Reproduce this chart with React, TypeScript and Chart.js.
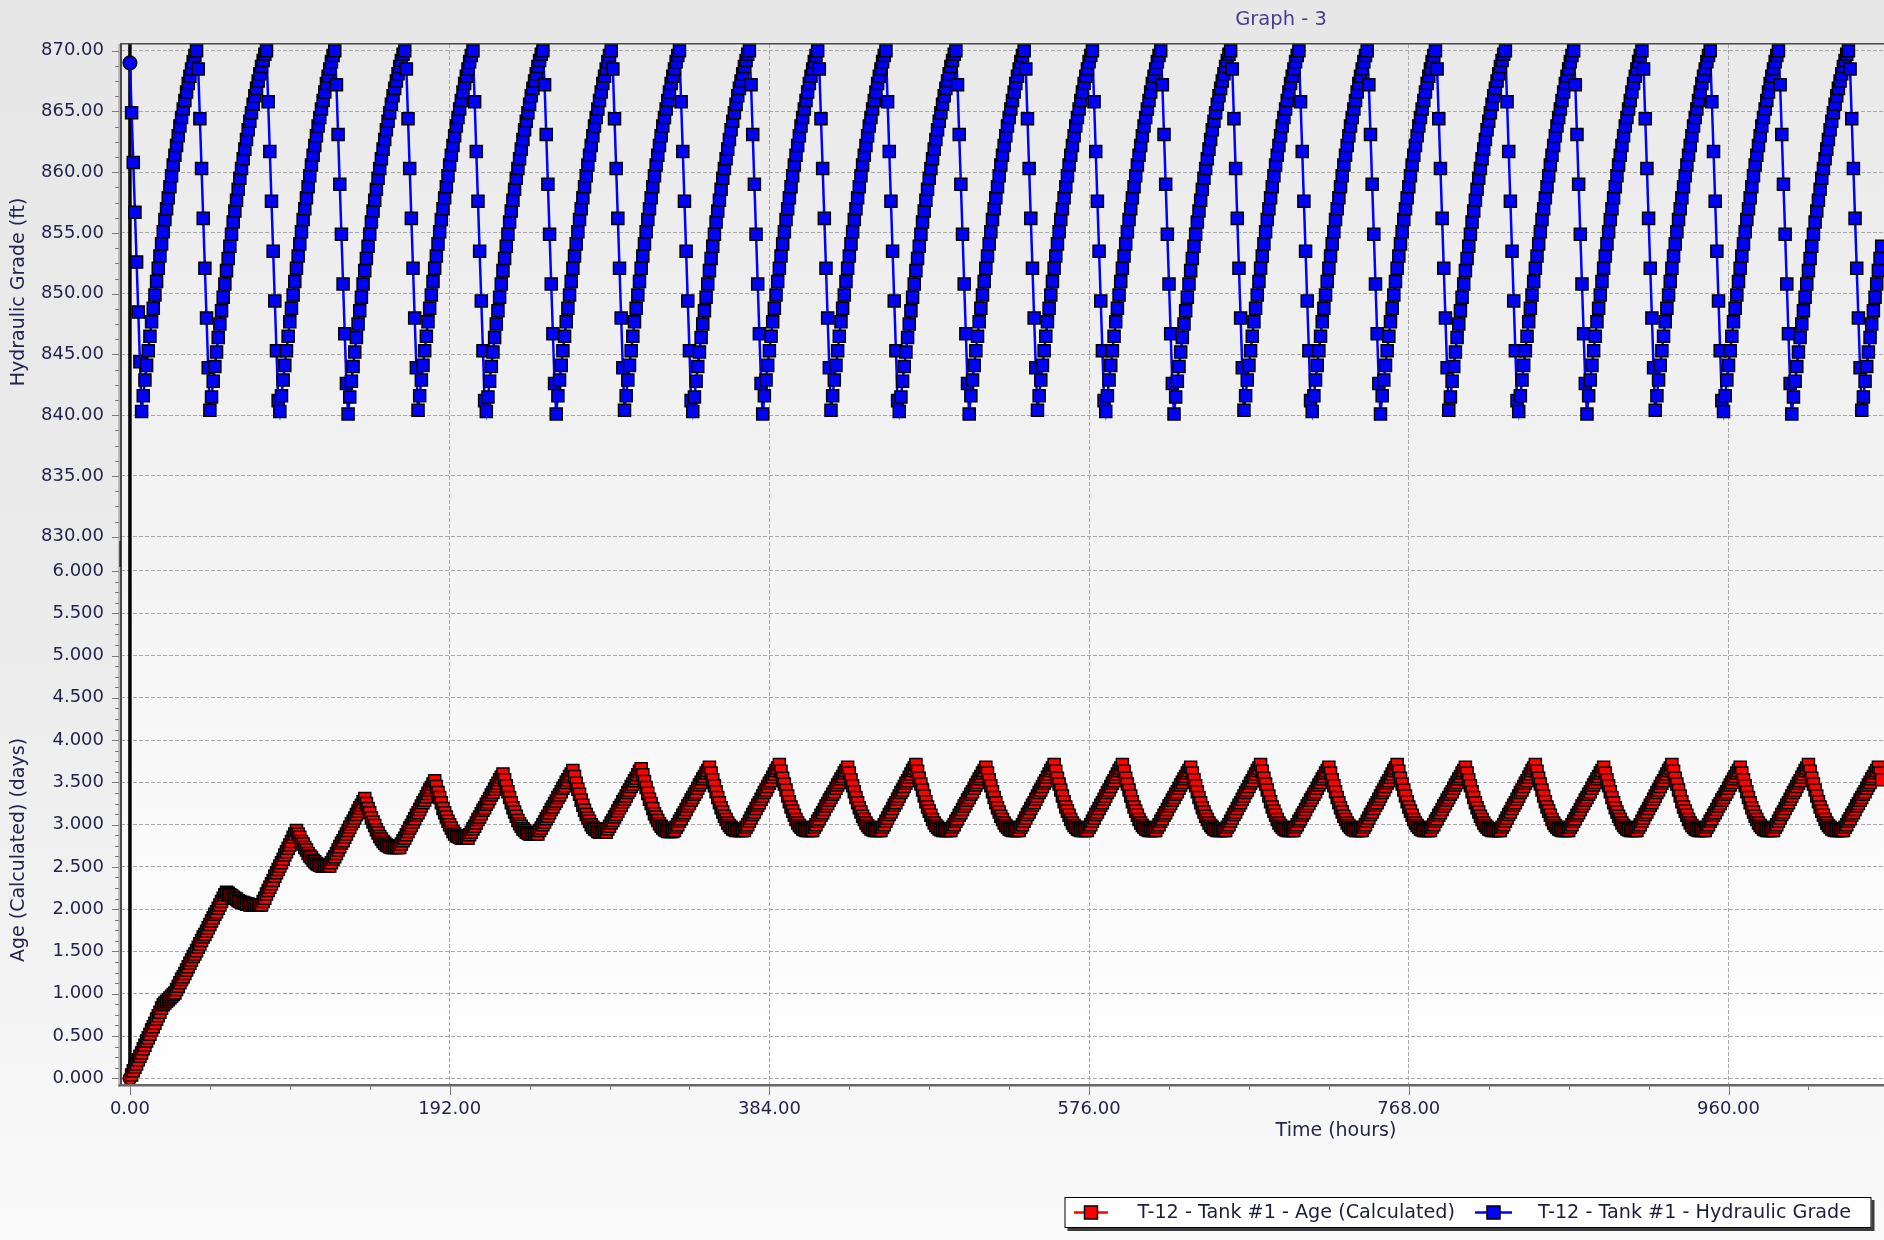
import React, { useEffect, useRef } from "react";
import { Chart, registerables } from "chart.js";

Chart.register(...registerables);

// ---------------- data (hourly simulation results) ----------------
const startHour = 0;
const stepHours = 1;

// T-12 - Tank #1 - Hydraulic Grade (ft), one value per hour from t = 0
const hydraulicGrade = [
  // t 0-40
  869.0, 864.9, 860.8, 856.7, 852.6, 848.5, 844.4, 840.3, 841.6, 842.9, 844.1, 845.3, 846.5, 847.7, 848.8, 849.9, 851.0, 852.1, 853.1, 854.1, 855.1, 856.1, 857.0, 857.9, 858.8, 859.7, 860.6, 861.4, 862.2, 863.0, 863.8, 864.5, 865.2, 865.9, 866.6, 867.3, 867.9, 868.5, 869.1, 869.6, 870.0,
  // t 41-82
  868.5, 864.4, 860.3, 856.2, 852.1, 848.0, 843.9, 840.4, 841.5, 842.8, 844.0, 845.2, 846.4, 847.5, 848.6, 849.7, 850.8, 851.9, 852.9, 853.9, 854.9, 855.9, 856.8, 857.7, 858.6, 859.5, 860.3, 861.1, 861.9, 862.7, 863.5, 864.2, 864.9, 865.6, 866.3, 866.9, 867.5, 868.1, 868.7, 869.2, 869.7, 870.0,
  // t 83-123
  865.8, 861.7, 857.6, 853.5, 849.4, 845.3, 841.2, 840.3, 841.6, 842.9, 844.1, 845.3, 846.5, 847.7, 848.8, 849.9, 851.0, 852.1, 853.1, 854.1, 855.1, 856.1, 857.0, 857.9, 858.8, 859.7, 860.6, 861.4, 862.2, 863.0, 863.8, 864.5, 865.2, 865.9, 866.6, 867.3, 867.9, 868.5, 869.1, 869.6, 870.0,
  // t 124-165
  867.2, 863.1, 859.0, 854.9, 850.8, 846.7, 842.6, 840.1, 841.5, 842.8, 844.0, 845.2, 846.4, 847.5, 848.6, 849.7, 850.8, 851.9, 852.9, 853.9, 854.9, 855.9, 856.8, 857.7, 858.6, 859.5, 860.3, 861.1, 861.9, 862.7, 863.5, 864.2, 864.9, 865.6, 866.3, 866.9, 867.5, 868.1, 868.7, 869.2, 869.7, 870.0,
  // t 166-206
  868.5, 864.4, 860.3, 856.2, 852.1, 848.0, 843.9, 840.4, 841.6, 842.9, 844.1, 845.3, 846.5, 847.7, 848.8, 849.9, 851.0, 852.1, 853.1, 854.1, 855.1, 856.1, 857.0, 857.9, 858.8, 859.7, 860.6, 861.4, 862.2, 863.0, 863.8, 864.5, 865.2, 865.9, 866.6, 867.3, 867.9, 868.5, 869.1, 869.6, 870.0,
  // t 207-248
  865.8, 861.7, 857.6, 853.5, 849.4, 845.3, 841.2, 840.3, 841.5, 842.8, 844.0, 845.2, 846.4, 847.5, 848.6, 849.7, 850.8, 851.9, 852.9, 853.9, 854.9, 855.9, 856.8, 857.7, 858.6, 859.5, 860.3, 861.1, 861.9, 862.7, 863.5, 864.2, 864.9, 865.6, 866.3, 866.9, 867.5, 868.1, 868.7, 869.2, 869.7, 870.0,
  // t 249-289
  867.2, 863.1, 859.0, 854.9, 850.8, 846.7, 842.6, 840.1, 841.6, 842.9, 844.1, 845.3, 846.5, 847.7, 848.8, 849.9, 851.0, 852.1, 853.1, 854.1, 855.1, 856.1, 857.0, 857.9, 858.8, 859.7, 860.6, 861.4, 862.2, 863.0, 863.8, 864.5, 865.2, 865.9, 866.6, 867.3, 867.9, 868.5, 869.1, 869.6, 870.0,
  // t 290-330
  868.5, 864.4, 860.3, 856.2, 852.1, 848.0, 843.9, 840.4, 841.6, 842.9, 844.1, 845.3, 846.5, 847.7, 848.8, 849.9, 851.0, 852.1, 853.1, 854.1, 855.1, 856.1, 857.0, 857.9, 858.8, 859.7, 860.6, 861.4, 862.2, 863.0, 863.8, 864.5, 865.2, 865.9, 866.6, 867.3, 867.9, 868.5, 869.1, 869.6, 870.0,
  // t 331-372
  865.8, 861.7, 857.6, 853.5, 849.4, 845.3, 841.2, 840.3, 841.5, 842.8, 844.0, 845.2, 846.4, 847.5, 848.6, 849.7, 850.8, 851.9, 852.9, 853.9, 854.9, 855.9, 856.8, 857.7, 858.6, 859.5, 860.3, 861.1, 861.9, 862.7, 863.5, 864.2, 864.9, 865.6, 866.3, 866.9, 867.5, 868.1, 868.7, 869.2, 869.7, 870.0,
  // t 373-413
  867.2, 863.1, 859.0, 854.9, 850.8, 846.7, 842.6, 840.1, 841.6, 842.9, 844.1, 845.3, 846.5, 847.7, 848.8, 849.9, 851.0, 852.1, 853.1, 854.1, 855.1, 856.1, 857.0, 857.9, 858.8, 859.7, 860.6, 861.4, 862.2, 863.0, 863.8, 864.5, 865.2, 865.9, 866.6, 867.3, 867.9, 868.5, 869.1, 869.6, 870.0,
  // t 414-454
  868.5, 864.4, 860.3, 856.2, 852.1, 848.0, 843.9, 840.4, 841.6, 842.9, 844.1, 845.3, 846.5, 847.7, 848.8, 849.9, 851.0, 852.1, 853.1, 854.1, 855.1, 856.1, 857.0, 857.9, 858.8, 859.7, 860.6, 861.4, 862.2, 863.0, 863.8, 864.5, 865.2, 865.9, 866.6, 867.3, 867.9, 868.5, 869.1, 869.6, 870.0,
  // t 455-496
  865.8, 861.7, 857.6, 853.5, 849.4, 845.3, 841.2, 840.3, 841.5, 842.8, 844.0, 845.2, 846.4, 847.5, 848.6, 849.7, 850.8, 851.9, 852.9, 853.9, 854.9, 855.9, 856.8, 857.7, 858.6, 859.5, 860.3, 861.1, 861.9, 862.7, 863.5, 864.2, 864.9, 865.6, 866.3, 866.9, 867.5, 868.1, 868.7, 869.2, 869.7, 870.0,
  // t 497-537
  867.2, 863.1, 859.0, 854.9, 850.8, 846.7, 842.6, 840.1, 841.6, 842.9, 844.1, 845.3, 846.5, 847.7, 848.8, 849.9, 851.0, 852.1, 853.1, 854.1, 855.1, 856.1, 857.0, 857.9, 858.8, 859.7, 860.6, 861.4, 862.2, 863.0, 863.8, 864.5, 865.2, 865.9, 866.6, 867.3, 867.9, 868.5, 869.1, 869.6, 870.0,
  // t 538-578
  868.5, 864.4, 860.3, 856.2, 852.1, 848.0, 843.9, 840.4, 841.6, 842.9, 844.1, 845.3, 846.5, 847.7, 848.8, 849.9, 851.0, 852.1, 853.1, 854.1, 855.1, 856.1, 857.0, 857.9, 858.8, 859.7, 860.6, 861.4, 862.2, 863.0, 863.8, 864.5, 865.2, 865.9, 866.6, 867.3, 867.9, 868.5, 869.1, 869.6, 870.0,
  // t 579-619
  865.8, 861.7, 857.6, 853.5, 849.4, 845.3, 841.2, 840.3, 841.6, 842.9, 844.1, 845.3, 846.5, 847.7, 848.8, 849.9, 851.0, 852.1, 853.1, 854.1, 855.1, 856.1, 857.0, 857.9, 858.8, 859.7, 860.6, 861.4, 862.2, 863.0, 863.8, 864.5, 865.2, 865.9, 866.6, 867.3, 867.9, 868.5, 869.1, 869.6, 870.0,
  // t 620-661
  867.2, 863.1, 859.0, 854.9, 850.8, 846.7, 842.6, 840.1, 841.5, 842.8, 844.0, 845.2, 846.4, 847.5, 848.6, 849.7, 850.8, 851.9, 852.9, 853.9, 854.9, 855.9, 856.8, 857.7, 858.6, 859.5, 860.3, 861.1, 861.9, 862.7, 863.5, 864.2, 864.9, 865.6, 866.3, 866.9, 867.5, 868.1, 868.7, 869.2, 869.7, 870.0,
  // t 662-702
  868.5, 864.4, 860.3, 856.2, 852.1, 848.0, 843.9, 840.4, 841.6, 842.9, 844.1, 845.3, 846.5, 847.7, 848.8, 849.9, 851.0, 852.1, 853.1, 854.1, 855.1, 856.1, 857.0, 857.9, 858.8, 859.7, 860.6, 861.4, 862.2, 863.0, 863.8, 864.5, 865.2, 865.9, 866.6, 867.3, 867.9, 868.5, 869.1, 869.6, 870.0,
  // t 703-743
  865.8, 861.7, 857.6, 853.5, 849.4, 845.3, 841.2, 840.3, 841.6, 842.9, 844.1, 845.3, 846.5, 847.7, 848.8, 849.9, 851.0, 852.1, 853.1, 854.1, 855.1, 856.1, 857.0, 857.9, 858.8, 859.7, 860.6, 861.4, 862.2, 863.0, 863.8, 864.5, 865.2, 865.9, 866.6, 867.3, 867.9, 868.5, 869.1, 869.6, 870.0,
  // t 744-784
  867.2, 863.1, 859.0, 854.9, 850.8, 846.7, 842.6, 840.1, 841.6, 842.9, 844.1, 845.3, 846.5, 847.7, 848.8, 849.9, 851.0, 852.1, 853.1, 854.1, 855.1, 856.1, 857.0, 857.9, 858.8, 859.7, 860.6, 861.4, 862.2, 863.0, 863.8, 864.5, 865.2, 865.9, 866.6, 867.3, 867.9, 868.5, 869.1, 869.6, 870.0,
  // t 785-826
  868.5, 864.4, 860.3, 856.2, 852.1, 848.0, 843.9, 840.4, 841.5, 842.8, 844.0, 845.2, 846.4, 847.5, 848.6, 849.7, 850.8, 851.9, 852.9, 853.9, 854.9, 855.9, 856.8, 857.7, 858.6, 859.5, 860.3, 861.1, 861.9, 862.7, 863.5, 864.2, 864.9, 865.6, 866.3, 866.9, 867.5, 868.1, 868.7, 869.2, 869.7, 870.0,
  // t 827-867
  865.8, 861.7, 857.6, 853.5, 849.4, 845.3, 841.2, 840.3, 841.6, 842.9, 844.1, 845.3, 846.5, 847.7, 848.8, 849.9, 851.0, 852.1, 853.1, 854.1, 855.1, 856.1, 857.0, 857.9, 858.8, 859.7, 860.6, 861.4, 862.2, 863.0, 863.8, 864.5, 865.2, 865.9, 866.6, 867.3, 867.9, 868.5, 869.1, 869.6, 870.0,
  // t 868-908
  867.2, 863.1, 859.0, 854.9, 850.8, 846.7, 842.6, 840.1, 841.6, 842.9, 844.1, 845.3, 846.5, 847.7, 848.8, 849.9, 851.0, 852.1, 853.1, 854.1, 855.1, 856.1, 857.0, 857.9, 858.8, 859.7, 860.6, 861.4, 862.2, 863.0, 863.8, 864.5, 865.2, 865.9, 866.6, 867.3, 867.9, 868.5, 869.1, 869.6, 870.0,
  // t 909-949
  868.5, 864.4, 860.3, 856.2, 852.1, 848.0, 843.9, 840.4, 841.6, 842.9, 844.1, 845.3, 846.5, 847.7, 848.8, 849.9, 851.0, 852.1, 853.1, 854.1, 855.1, 856.1, 857.0, 857.9, 858.8, 859.7, 860.6, 861.4, 862.2, 863.0, 863.8, 864.5, 865.2, 865.9, 866.6, 867.3, 867.9, 868.5, 869.1, 869.6, 870.0,
  // t 950-990
  865.8, 861.7, 857.6, 853.5, 849.4, 845.3, 841.2, 840.3, 841.6, 842.9, 844.1, 845.3, 846.5, 847.7, 848.8, 849.9, 851.0, 852.1, 853.1, 854.1, 855.1, 856.1, 857.0, 857.9, 858.8, 859.7, 860.6, 861.4, 862.2, 863.0, 863.8, 864.5, 865.2, 865.9, 866.6, 867.3, 867.9, 868.5, 869.1, 869.6, 870.0,
  // t 991-1032
  867.2, 863.1, 859.0, 854.9, 850.8, 846.7, 842.6, 840.1, 841.5, 842.8, 844.0, 845.2, 846.4, 847.5, 848.6, 849.7, 850.8, 851.9, 852.9, 853.9, 854.9, 855.9, 856.8, 857.7, 858.6, 859.5, 860.3, 861.1, 861.9, 862.7, 863.5, 864.2, 864.9, 865.6, 866.3, 866.9, 867.5, 868.1, 868.7, 869.2, 869.7, 870.0,
  // t 1033-1052
  868.5, 864.4, 860.3, 856.2, 852.1, 848.0, 843.9, 840.4, 841.5, 842.8, 844.0, 845.2, 846.4, 847.5, 848.6, 849.7, 850.8, 851.9, 852.9, 853.9,
];

// T-12 - Tank #1 - Age (Calculated) (days), one value per hour from t = 0
const ageDays = [
  // t 0-20
  0.00, 0.04, 0.09, 0.13, 0.17, 0.22, 0.26, 0.30, 0.35, 0.39, 0.44, 0.48, 0.52, 0.57, 0.61, 0.65, 0.70, 0.74, 0.78, 0.83, 0.87,
  // t 21-27
  0.89, 0.91, 0.93, 0.95, 0.97, 0.99, 1.01,
  // t 28-58
  1.05, 1.09, 1.13, 1.17, 1.20, 1.24, 1.28, 1.32, 1.36, 1.40, 1.44, 1.47, 1.51, 1.55, 1.59, 1.63, 1.67, 1.70, 1.74, 1.78, 1.82, 1.86, 1.90, 1.94, 1.97, 2.01, 2.05, 2.09, 2.13, 2.17, 2.20,
  // t 59-78
  2.19, 2.17, 2.16, 2.14, 2.13, 2.12, 2.10, 2.09, 2.08, 2.08, 2.07, 2.06, 2.06, 2.05, 2.05, 2.05, 2.05, 2.05, 2.05, 2.05,
  // t 79-119
  2.05, 2.09, 2.13, 2.18, 2.22, 2.26, 2.30, 2.34, 2.39, 2.43, 2.47, 2.51, 2.55, 2.59, 2.64, 2.68, 2.72, 2.76, 2.80, 2.85, 2.89, 2.93, 2.89, 2.85, 2.80, 2.77, 2.73, 2.70, 2.66, 2.63, 2.61, 2.58, 2.56, 2.54, 2.53, 2.52, 2.51, 2.51, 2.51, 2.51, 2.51,
  // t 120-161
  2.51, 2.55, 2.59, 2.62, 2.66, 2.70, 2.74, 2.78, 2.81, 2.85, 2.89, 2.93, 2.97, 3.01, 3.04, 3.08, 3.12, 3.16, 3.20, 3.23, 3.27, 3.31, 3.25, 3.19, 3.14, 3.08, 3.03, 2.99, 2.94, 2.90, 2.86, 2.83, 2.80, 2.78, 2.76, 2.75, 2.74, 2.73, 2.73, 2.73, 2.73, 2.73,
  // t 162-202
  2.73, 2.77, 2.81, 2.84, 2.88, 2.92, 2.96, 2.99, 3.03, 3.07, 3.11, 3.14, 3.18, 3.22, 3.26, 3.29, 3.33, 3.37, 3.41, 3.44, 3.48, 3.52, 3.45, 3.38, 3.32, 3.26, 3.19, 3.14, 3.09, 3.04, 3.00, 2.96, 2.92, 2.89, 2.87, 2.86, 2.85, 2.84, 2.84, 2.84, 2.84,
  // t 203-244
  2.84, 2.88, 2.91, 2.95, 2.98, 3.02, 3.06, 3.09, 3.13, 3.17, 3.20, 3.24, 3.27, 3.31, 3.35, 3.38, 3.42, 3.46, 3.49, 3.53, 3.56, 3.60, 3.53, 3.46, 3.39, 3.32, 3.26, 3.20, 3.15, 3.10, 3.05, 3.01, 2.98, 2.95, 2.93, 2.91, 2.90, 2.89, 2.89, 2.89, 2.89, 2.89,
  // t 245-285
  2.89, 2.93, 2.96, 3.00, 3.03, 3.07, 3.10, 3.14, 3.18, 3.21, 3.25, 3.28, 3.32, 3.35, 3.39, 3.43, 3.46, 3.50, 3.53, 3.57, 3.60, 3.64, 3.57, 3.49, 3.42, 3.36, 3.29, 3.23, 3.17, 3.12, 3.08, 3.04, 3.00, 2.97, 2.95, 2.94, 2.92, 2.91, 2.91, 2.91, 2.91,
  // t 286-326
  2.91, 2.95, 2.98, 3.02, 3.05, 3.09, 3.12, 3.16, 3.20, 3.23, 3.27, 3.30, 3.34, 3.38, 3.41, 3.45, 3.48, 3.52, 3.55, 3.59, 3.63, 3.66, 3.59, 3.51, 3.44, 3.37, 3.30, 3.25, 3.19, 3.13, 3.09, 3.05, 3.01, 2.98, 2.96, 2.94, 2.93, 2.92, 2.92, 2.92, 2.92,
  // t 327-368
  2.93, 2.97, 3.00, 3.04, 3.07, 3.11, 3.14, 3.18, 3.22, 3.25, 3.29, 3.32, 3.36, 3.39, 3.43, 3.47, 3.50, 3.54, 3.57, 3.61, 3.64, 3.68, 3.61, 3.53, 3.46, 3.39, 3.32, 3.26, 3.20, 3.15, 3.10, 3.06, 3.02, 2.99, 2.97, 2.95, 2.94, 2.93, 2.93, 2.93, 2.93, 2.93,
  // t 369-409
  2.93, 2.97, 3.00, 3.04, 3.08, 3.12, 3.15, 3.19, 3.23, 3.26, 3.30, 3.34, 3.38, 3.41, 3.45, 3.49, 3.52, 3.56, 3.60, 3.64, 3.67, 3.71, 3.63, 3.55, 3.48, 3.41, 3.34, 3.27, 3.21, 3.16, 3.11, 3.06, 3.02, 2.99, 2.97, 2.95, 2.94, 2.93, 2.93, 2.93, 2.93,
  // t 410-450
  2.93, 2.97, 3.00, 3.04, 3.07, 3.11, 3.14, 3.18, 3.22, 3.25, 3.29, 3.32, 3.36, 3.39, 3.43, 3.47, 3.50, 3.54, 3.57, 3.61, 3.64, 3.68, 3.61, 3.53, 3.46, 3.39, 3.32, 3.26, 3.20, 3.15, 3.10, 3.06, 3.02, 2.99, 2.97, 2.95, 2.94, 2.93, 2.93, 2.93, 2.93,
  // t 451-492
  2.93, 2.97, 3.00, 3.04, 3.08, 3.12, 3.15, 3.19, 3.23, 3.26, 3.30, 3.34, 3.38, 3.41, 3.45, 3.49, 3.52, 3.56, 3.60, 3.64, 3.67, 3.71, 3.63, 3.55, 3.48, 3.41, 3.34, 3.27, 3.21, 3.16, 3.11, 3.06, 3.02, 2.99, 2.97, 2.95, 2.94, 2.93, 2.93, 2.93, 2.93, 2.93,
  // t 493-533
  2.93, 2.97, 3.00, 3.04, 3.07, 3.11, 3.14, 3.18, 3.22, 3.25, 3.29, 3.32, 3.36, 3.39, 3.43, 3.47, 3.50, 3.54, 3.57, 3.61, 3.64, 3.68, 3.61, 3.53, 3.46, 3.39, 3.32, 3.26, 3.20, 3.15, 3.10, 3.06, 3.02, 2.99, 2.97, 2.95, 2.94, 2.93, 2.93, 2.93, 2.93,
  // t 534-574
  2.93, 2.97, 3.00, 3.04, 3.08, 3.12, 3.15, 3.19, 3.23, 3.26, 3.30, 3.34, 3.38, 3.41, 3.45, 3.49, 3.52, 3.56, 3.60, 3.64, 3.67, 3.71, 3.63, 3.55, 3.48, 3.41, 3.34, 3.27, 3.21, 3.16, 3.11, 3.06, 3.02, 2.99, 2.97, 2.95, 2.94, 2.93, 2.93, 2.93, 2.93,
  // t 575-615
  2.93, 2.97, 3.00, 3.04, 3.08, 3.12, 3.15, 3.19, 3.23, 3.26, 3.30, 3.34, 3.38, 3.41, 3.45, 3.49, 3.52, 3.56, 3.60, 3.64, 3.67, 3.71, 3.63, 3.55, 3.48, 3.41, 3.34, 3.27, 3.21, 3.16, 3.11, 3.06, 3.02, 2.99, 2.97, 2.95, 2.94, 2.93, 2.93, 2.93, 2.93,
  // t 616-657
  2.93, 2.97, 3.00, 3.04, 3.07, 3.11, 3.14, 3.18, 3.22, 3.25, 3.29, 3.32, 3.36, 3.39, 3.43, 3.47, 3.50, 3.54, 3.57, 3.61, 3.64, 3.68, 3.61, 3.53, 3.46, 3.39, 3.32, 3.26, 3.20, 3.15, 3.10, 3.06, 3.02, 2.99, 2.97, 2.95, 2.94, 2.93, 2.93, 2.93, 2.93, 2.93,
  // t 658-698
  2.93, 2.97, 3.00, 3.04, 3.08, 3.12, 3.15, 3.19, 3.23, 3.26, 3.30, 3.34, 3.38, 3.41, 3.45, 3.49, 3.52, 3.56, 3.60, 3.64, 3.67, 3.71, 3.63, 3.55, 3.48, 3.41, 3.34, 3.27, 3.21, 3.16, 3.11, 3.06, 3.02, 2.99, 2.97, 2.95, 2.94, 2.93, 2.93, 2.93, 2.93,
  // t 699-739
  2.93, 2.97, 3.00, 3.04, 3.07, 3.11, 3.14, 3.18, 3.22, 3.25, 3.29, 3.32, 3.36, 3.39, 3.43, 3.47, 3.50, 3.54, 3.57, 3.61, 3.64, 3.68, 3.61, 3.53, 3.46, 3.39, 3.32, 3.26, 3.20, 3.15, 3.10, 3.06, 3.02, 2.99, 2.97, 2.95, 2.94, 2.93, 2.93, 2.93, 2.93,
  // t 740-780
  2.93, 2.97, 3.00, 3.04, 3.08, 3.12, 3.15, 3.19, 3.23, 3.26, 3.30, 3.34, 3.38, 3.41, 3.45, 3.49, 3.52, 3.56, 3.60, 3.64, 3.67, 3.71, 3.63, 3.55, 3.48, 3.41, 3.34, 3.27, 3.21, 3.16, 3.11, 3.06, 3.02, 2.99, 2.97, 2.95, 2.94, 2.93, 2.93, 2.93, 2.93,
  // t 781-822
  2.93, 2.97, 3.00, 3.04, 3.07, 3.11, 3.14, 3.18, 3.22, 3.25, 3.29, 3.32, 3.36, 3.39, 3.43, 3.47, 3.50, 3.54, 3.57, 3.61, 3.64, 3.68, 3.61, 3.53, 3.46, 3.39, 3.32, 3.26, 3.20, 3.15, 3.10, 3.06, 3.02, 2.99, 2.97, 2.95, 2.94, 2.93, 2.93, 2.93, 2.93, 2.93,
  // t 823-863
  2.93, 2.97, 3.00, 3.04, 3.08, 3.12, 3.15, 3.19, 3.23, 3.26, 3.30, 3.34, 3.38, 3.41, 3.45, 3.49, 3.52, 3.56, 3.60, 3.64, 3.67, 3.71, 3.63, 3.55, 3.48, 3.41, 3.34, 3.27, 3.21, 3.16, 3.11, 3.06, 3.02, 2.99, 2.97, 2.95, 2.94, 2.93, 2.93, 2.93, 2.93,
  // t 864-904
  2.93, 2.97, 3.00, 3.04, 3.07, 3.11, 3.14, 3.18, 3.22, 3.25, 3.29, 3.32, 3.36, 3.39, 3.43, 3.47, 3.50, 3.54, 3.57, 3.61, 3.64, 3.68, 3.61, 3.53, 3.46, 3.39, 3.32, 3.26, 3.20, 3.15, 3.10, 3.06, 3.02, 2.99, 2.97, 2.95, 2.94, 2.93, 2.93, 2.93, 2.93,
  // t 905-945
  2.93, 2.97, 3.00, 3.04, 3.08, 3.12, 3.15, 3.19, 3.23, 3.26, 3.30, 3.34, 3.38, 3.41, 3.45, 3.49, 3.52, 3.56, 3.60, 3.64, 3.67, 3.71, 3.63, 3.55, 3.48, 3.41, 3.34, 3.27, 3.21, 3.16, 3.11, 3.06, 3.02, 2.99, 2.97, 2.95, 2.94, 2.93, 2.93, 2.93, 2.93,
  // t 946-986
  2.93, 2.97, 3.00, 3.04, 3.07, 3.11, 3.14, 3.18, 3.22, 3.25, 3.29, 3.32, 3.36, 3.39, 3.43, 3.47, 3.50, 3.54, 3.57, 3.61, 3.64, 3.68, 3.61, 3.53, 3.46, 3.39, 3.32, 3.26, 3.20, 3.15, 3.10, 3.06, 3.02, 2.99, 2.97, 2.95, 2.94, 2.93, 2.93, 2.93, 2.93,
  // t 987-1028
  2.93, 2.97, 3.00, 3.04, 3.08, 3.12, 3.15, 3.19, 3.23, 3.26, 3.30, 3.34, 3.38, 3.41, 3.45, 3.49, 3.52, 3.56, 3.60, 3.64, 3.67, 3.71, 3.63, 3.55, 3.48, 3.41, 3.34, 3.27, 3.21, 3.16, 3.11, 3.06, 3.02, 2.99, 2.97, 2.95, 2.94, 2.93, 2.93, 2.93, 2.93, 2.93,
  // t 1029-1052
  2.93, 2.97, 3.00, 3.04, 3.07, 3.11, 3.14, 3.18, 3.22, 3.25, 3.29, 3.32, 3.36, 3.39, 3.43, 3.47, 3.50, 3.54, 3.57, 3.61, 3.64, 3.68, 3.61, 3.53,
];

const gradeTicks = [830, 835, 840, 845, 850, 855, 860, 865, 870];
const ageTicks = [0, 0.5, 1, 1.5, 2, 2.5, 3, 3.5, 4, 4.5, 5, 5.5, 6];
const timeTicks = [0, 192, 384, 576, 768, 960];
const gradeMinorStep = 1.25;
const ageMinorStep = 0.125;
const timeMinorStep = 48;

const chartTitle = "Graph - 3";
const xAxisTitle = "Time (hours)";
const gradeAxisTitle = "Hydraulic Grade (ft)";
const ageAxisTitle = "Age (Calculated) (days)";
const seriesNames = ["T-12 - Tank #1 - Age (Calculated)", "T-12 - Tank #1 - Hydraulic Grade"];

// ---------------- layout / style ----------------
const CANVAS_W = 1920;
const CANVAS_H = 1240;
const VIEW_W = 1884;
const PLOT_LEFT = 121;
const PLOT_TOP = 44;
const PLOT_BOTTOM = 1085;
const PX_PER_HOUR = 321.5 / 192;
const X_MIN = -(130 - PLOT_LEFT) / PX_PER_HOUR;
const X_MAX = X_MIN + (CANVAS_W - PLOT_LEFT) / PX_PER_HOUR;
const GRADE_PX = 12.15; // px per ft, 870 at y=50.7
const GRADE_MAX = 870 + (50.7 - PLOT_TOP) / GRADE_PX;
const GRADE_MIN = 870 - (PLOT_BOTTOM - 50.7) / GRADE_PX;
const AGE_PX = 84.55; // px per day, 0 at y=1078.3
const AGE_MIN = -(PLOT_BOTTOM - 1078.3) / AGE_PX;
const AGE_MAX = (1078.3 - PLOT_TOP) / AGE_PX;

const FONT = "'DejaVu Sans', Verdana, sans-serif";
const TEXT_COLOR = "#24244e";
const GRID_COLOR = "#a9a9a9";

const toPoints = (arr: number[]) => arr.map((v, i) => ({ x: startHour + i * stepHours, y: v }));

const decorPlugin = {
  id: "decor",
  afterLayout(chart: any) {
    // the inner value axis has no width of its own; let its labels use the shared label column
    const ya = chart.scales.yAge;
    if (ya) ya.left = 0;
  },
  beforeDraw(chart: any) {
    const { ctx, chartArea: a } = chart;
    ctx.save();
    const g = ctx.createLinearGradient(0, 0, 0, CANVAS_H);
    g.addColorStop(0, "#e7e7e7");
    g.addColorStop(0.5, "#ebebeb");
    g.addColorStop(1, "#fafafa");
    ctx.fillStyle = g;
    ctx.fillRect(0, 0, chart.width, chart.height);
    const pg = ctx.createLinearGradient(0, a.top, 0, a.bottom);
    pg.addColorStop(0, "#e9e9e9");
    pg.addColorStop(1, "#ffffff");
    ctx.fillStyle = pg;
    ctx.fillRect(a.left, a.top, a.right - a.left, a.bottom - a.top);
    ctx.restore();
  },
  beforeDatasetsDraw(chart: any) {
    const { ctx, chartArea: a, scales } = chart;
    const x0 = scales.x.getPixelForValue(0);
    const yEnd = scales.yAge.getPixelForValue(0);
    ctx.save();
    ctx.strokeStyle = "#000000";
    ctx.lineWidth = 3.5;
    ctx.beginPath();
    ctx.moveTo(x0, a.top);
    ctx.lineTo(x0, yEnd);
    ctx.stroke();
    ctx.restore();
  },
  afterDatasetsDraw(chart: any) {
    const { ctx, chartArea: a, scales } = chart;
    ctx.save();
    // frame
    ctx.fillStyle = "#9a9a9a";
    ctx.fillRect(a.left - 2.5, a.top, 1.2, a.bottom - a.top + 2);
    ctx.fillStyle = "#4a4a4a";
    ctx.fillRect(a.left - 1, a.top - 1, 2, a.bottom - a.top + 2);
    ctx.fillRect(a.left - 1, a.top - 1, a.right - a.left + 2, 1.5);
    ctx.fillStyle = "#666666";
    ctx.fillRect(a.left - 2.5, a.bottom - 1, a.right - a.left + 3, 2.5);
    // axis break between the two value axes
    ctx.strokeStyle = "#000000";
    ctx.lineWidth = 1;
    ctx.beginPath();
    ctx.moveTo(a.left - 1, 541);
    ctx.lineTo(a.left - 1, 567);
    ctx.stroke();

    // tick marks
    ctx.strokeStyle = "#7a7a7a";
    ctx.lineWidth = 1;
    const yg = scales.yGrade;
    const ya = scales.yAge;
    const xs = scales.x;
    const hline = (y: number, len: number) => {
      const yy = Math.round(y) + 0.5;
      ctx.beginPath();
      ctx.moveTo(a.left - 2 - len, yy);
      ctx.lineTo(a.left - 2, yy);
      ctx.stroke();
    };
    const gLo = gradeTicks[0], gHi = gradeTicks[gradeTicks.length - 1];
    for (let v = gLo; v <= gHi + 1e-6; v += gradeMinorStep) {
      const major = gradeTicks.some((t) => Math.abs(t - v) < 1e-6);
      hline(yg.getPixelForValue(v), major ? 7 : 4);
    }
    const aLo = ageTicks[0], aHi = ageTicks[ageTicks.length - 1];
    for (let v = aLo; v <= aHi + 1e-6; v += ageMinorStep) {
      const major = ageTicks.some((t) => Math.abs(t - v) < 1e-6);
      hline(ya.getPixelForValue(v), major ? 7 : 4);
    }
    for (let v = 0; v <= X_MAX; v += timeMinorStep) {
      const major = timeTicks.includes(v);
      const xx = Math.round(xs.getPixelForValue(v)) + 0.5;
      ctx.beginPath();
      ctx.moveTo(xx, a.bottom + 1.5);
      ctx.lineTo(xx, a.bottom + (major ? 10 : 5));
      ctx.stroke();
    }
    ctx.restore();
  },
  afterDraw(chart: any) {
    const { ctx } = chart;
    ctx.save();
    // title
    ctx.fillStyle = "#483d8b";
    ctx.font = `19.5px ${FONT}`;
    ctx.textAlign = "center";
    ctx.textBaseline = "middle";
    ctx.fillText(chartTitle, 1281, 20);
    // axis titles
    ctx.fillStyle = TEXT_COLOR;
    ctx.font = `19px ${FONT}`;
    ctx.fillText(xAxisTitle, 1336, 1131);
    ctx.save();
    ctx.translate(19, 292);
    ctx.rotate(-Math.PI / 2);
    ctx.fillText(gradeAxisTitle, 0, 0);
    ctx.restore();
    ctx.save();
    ctx.translate(19, 850);
    ctx.rotate(-Math.PI / 2);
    ctx.fillText(ageAxisTitle, 0, 0);
    ctx.restore();

    // legend
    const bx = 1064.5, by = 1197, bw = 807, bh = 31;
    ctx.fillStyle = "#3c3c3c";
    ctx.fillRect(bx + 3, by + 3, bw, bh);
    ctx.fillStyle = "#ffffff";
    ctx.fillRect(bx, by, bw, bh);
    ctx.strokeStyle = "#000000";
    ctx.lineWidth = 1;
    ctx.strokeRect(bx + 0.5, by + 0.5, bw - 1, bh - 1);
    const cy = by + bh / 2;
    const items = [
      { x0: 1074, x1: 1108, mx: 1091, tx: 1137.5, color: "#ff0000", text: seriesNames[0] },
      { x0: 1475, x1: 1512, mx: 1493.5, tx: 1538, color: "#0000ff", text: seriesNames[1] },
    ];
    ctx.font = `19.2px ${FONT}`;
    ctx.textAlign = "left";
    ctx.textBaseline = "middle";
    for (const it of items) {
      ctx.strokeStyle = it.color;
      ctx.lineWidth = 2.5;
      ctx.beginPath();
      ctx.moveTo(it.x0, cy);
      ctx.lineTo(it.x1, cy);
      ctx.stroke();
      ctx.fillStyle = it.color;
      ctx.fillRect(it.mx - 6.5, cy - 6.5, 13, 13);
      ctx.strokeStyle = "#000000";
      ctx.lineWidth = 1.5;
      ctx.strokeRect(it.mx - 6.5, cy - 6.5, 13, 13);
      ctx.fillStyle = "#1e1e3c";
      ctx.fillText(it.text, it.tx, cy + 0.5);
    }
    ctx.restore();
  },
};

export default function App() {
  const canvasRef = useRef<HTMLCanvasElement | null>(null);

  useEffect(() => {
    const canvas = canvasRef.current;
    if (!canvas) return;
    const markerStyle = (ctx: any) => (ctx.dataIndex === 0 ? "circle" : "rect");
    const markerRadius = (ctx: any) => (ctx.dataIndex === 0 ? 6.8 : 8.5);
    const chart = new Chart(canvas, {
      type: "line",
      data: {
        datasets: [
          {
            label: seriesNames[0],
            data: toPoints(ageDays),
            yAxisID: "yAge",
            borderColor: "#ff0000",
            backgroundColor: "#ff0000",
            borderWidth: 2.5,
            pointBackgroundColor: "#ff0000",
            pointBorderColor: "#000000",
            pointBorderWidth: 1.5,
            pointStyle: markerStyle,
            pointRadius: markerRadius,
            tension: 0,
            fill: false,
          },
          {
            label: seriesNames[1],
            data: toPoints(hydraulicGrade),
            yAxisID: "yGrade",
            borderColor: "#0000ff",
            backgroundColor: "#0000ff",
            borderWidth: 2.5,
            pointBackgroundColor: "#0000ff",
            pointBorderColor: "#000000",
            pointBorderWidth: 1.5,
            pointStyle: markerStyle,
            pointRadius: markerRadius,
            tension: 0,
            fill: false,
          },
        ],
      },
      options: {
        animation: false,
        responsive: false,
        events: [],
        layout: { padding: { top: PLOT_TOP, left: 0, right: 0, bottom: 0 } },
        plugins: {
          legend: { display: false },
          tooltip: { enabled: false },
          title: { display: false },
        },
        scales: {
          x: {
            type: "linear",
            position: "bottom",
            min: X_MIN,
            max: X_MAX,
            afterBuildTicks: (s: any) => {
              s.ticks = timeTicks.map((v) => ({ value: v }));
            },
            afterFit: (s: any) => {
              s.height = CANVAS_H - PLOT_BOTTOM;
            },
            grid: {
              color: (c: any) => (c.tick && c.tick.value === 0 ? "rgba(0,0,0,0)" : GRID_COLOR),
              lineWidth: 1,
              drawTicks: false,
            },
            border: { display: false, dash: [4, 2] },
            ticks: {
              color: TEXT_COLOR,
              font: { family: FONT, size: 18 },
              padding: 14,
              maxRotation: 0,
              autoSkip: false,
              callback: (v: any) => Number(v).toFixed(2),
            },
          },
          yGrade: {
            type: "linear",
            position: "left",
            weight: 10,
            min: GRADE_MIN,
            max: GRADE_MAX,
            afterBuildTicks: (s: any) => {
              s.ticks = gradeTicks.map((v) => ({ value: v }));
            },
            afterFit: (s: any) => {
              s.width = PLOT_LEFT;
            },
            grid: { color: GRID_COLOR, lineWidth: 1, drawTicks: false },
            border: { display: false, dash: [4, 2] },
            ticks: {
              color: TEXT_COLOR,
              font: { family: FONT, size: 18 },
              padding: 17,
              autoSkip: false,
              callback: (v: any) => Number(v).toFixed(2),
            },
          },
          yAge: {
            type: "linear",
            position: "left",
            weight: 0,
            min: AGE_MIN,
            max: AGE_MAX,
            afterBuildTicks: (s: any) => {
              s.ticks = ageTicks.map((v) => ({ value: v }));
            },
            afterFit: (s: any) => {
              s.width = 0;
            },
            grid: { color: GRID_COLOR, lineWidth: 1, drawTicks: false },
            border: { display: false, dash: [4, 2] },
            ticks: {
              color: TEXT_COLOR,
              font: { family: FONT, size: 18 },
              padding: 17,
              autoSkip: false,
              callback: (v: any) => Number(v).toFixed(3),
            },
          },
        },
      } as any,
      plugins: [decorPlugin],
    });
    return () => chart.destroy();
  }, []);

  return (
    <div
      style={{
        position: "fixed",
        left: 0,
        top: 0,
        width: VIEW_W,
        height: CANVAS_H,
        overflow: "hidden",
        background: "#eeeeee",
      }}
    >
      <canvas
        ref={canvasRef}
        width={CANVAS_W}
        height={CANVAS_H}
        style={{ display: "block", width: CANVAS_W, height: CANVAS_H }}
      />
    </div>
  );
}
